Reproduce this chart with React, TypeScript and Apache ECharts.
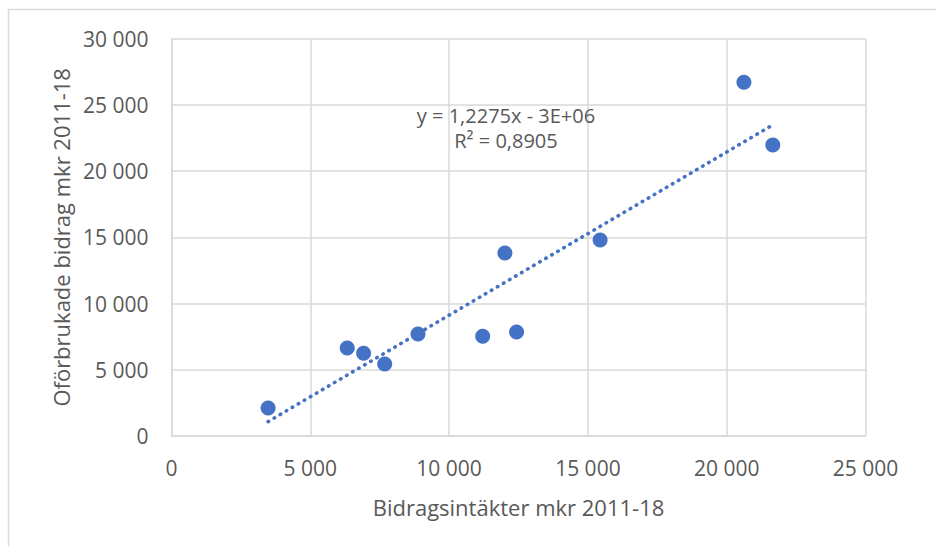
import React, { useEffect, useRef } from "react";
import * as echarts from "echarts";

const incomeX: number[] = [3480, 6330, 6920, 7680, 8880, 11210, 12430, 12010, 15440, 20620, 21660];
const unusedY: number[] = [2120, 6650, 6250, 5440, 7700, 7530, 7860, 13820, 14800, 26720, 21980];
const xTitle = "Bidragsintäkter mkr 2011-18";
const yTitle = "Oförbrukade bidrag mkr 2011-18";
const eqText = "y = 1,2275x - 3E+06";
const r2Text = "R² = 0,8905";

const fmt = (v: number) => String(v).replace(/\B(?=(\d{3})+(?!\d))/g, " ");

export default function App() {
  const ref = useRef<HTMLDivElement>(null);
  useEffect(() => {
    document.body.style.margin = "0";
    const chart = echarts.init(ref.current!, undefined, { renderer: "svg" });
    const n = incomeX.length;
    const mx = incomeX.reduce((a, b) => a + b, 0) / n;
    const my = unusedY.reduce((a, b) => a + b, 0) / n;
    let sxy = 0, sxx = 0;
    for (let i = 0; i < n; i++) {
      sxy += (incomeX[i] - mx) * (unusedY[i] - my);
      sxx += (incomeX[i] - mx) ** 2;
    }
    const slope = sxy / sxx;
    const icpt = my - slope * mx;
    const xMin = Math.min(...incomeX);
    const xMax = Math.max(...incomeX);
    const trend = [
      [xMin, slope * xMin + icpt],
      [xMax, slope * xMax + icpt],
    ];
    const font = "Open Sans";
    const gray = "#595959";
    const grid = "#d9d9d9";
    chart.setOption({
      animation: false,
      grid: { left: 171.5, right: 70.5, top: 38.7, bottom: 110, containLabel: false },
      xAxis: {
        type: "value",
        min: 0,
        max: 25000,
        interval: 5000,
        name: xTitle,
        nameLocation: "middle",
        nameGap: 60,
        nameTextStyle: { color: gray, fontSize: 22, fontFamily: font },
        axisLine: { show: true, lineStyle: { color: grid, width: 1.5 } },
        axisTick: { show: false },
        axisLabel: { color: gray, fontSize: 21, fontFamily: font, margin: 21, formatter: fmt },
        splitLine: { show: true, lineStyle: { color: grid, width: 1.5 } },
      },
      yAxis: {
        type: "value",
        min: 0,
        max: 30000,
        interval: 5000,
        name: yTitle,
        nameLocation: "middle",
        nameGap: 100,
        nameTextStyle: { color: gray, fontSize: 22, fontFamily: font },
        axisLine: { show: true, lineStyle: { color: grid, width: 1.5 } },
        axisTick: { show: false },
        axisLabel: { color: gray, fontSize: 21, fontFamily: font, margin: 23, formatter: fmt },
        splitLine: { show: true, lineStyle: { color: grid, width: 1.5 } },
      },
      graphic: [
        {
          type: "rect",
          shape: { x: 8.5, y: 9.5, width: 1200, height: 1200 },
          style: { fill: "none", stroke: grid, lineWidth: 1.5 },
          silent: true,
        },
        {
          type: "text",
          x: 506,
          y: 115,
          style: { text: eqText, fill: gray, fontSize: 20, fontFamily: font, align: "center", verticalAlign: "middle" },
          z: 10,
        },
        {
          type: "text",
          x: 506,
          y: 140,
          style: { text: r2Text, fill: gray, fontSize: 20, fontFamily: font, align: "center", verticalAlign: "middle" },
          z: 10,
        },
      ],
      series: [
        {
          type: "scatter",
          data: incomeX.map((x, i) => [x, unusedY[i]]),
          symbolSize: 15,
          itemStyle: { color: "#4472C4", opacity: 1 },
          z: 2,
        },
        {
          type: "line",
          data: trend,
          showSymbol: false,
          symbol: "none",
          lineStyle: { color: "#4472C4", width: 3.6, type: [0.5, 6.5], cap: "round" },
          z: 3,
        },
      ],
    });
    return () => chart.dispose();
  }, []);
  return <div ref={ref} style={{ width: 936, height: 546 }} />;
}
